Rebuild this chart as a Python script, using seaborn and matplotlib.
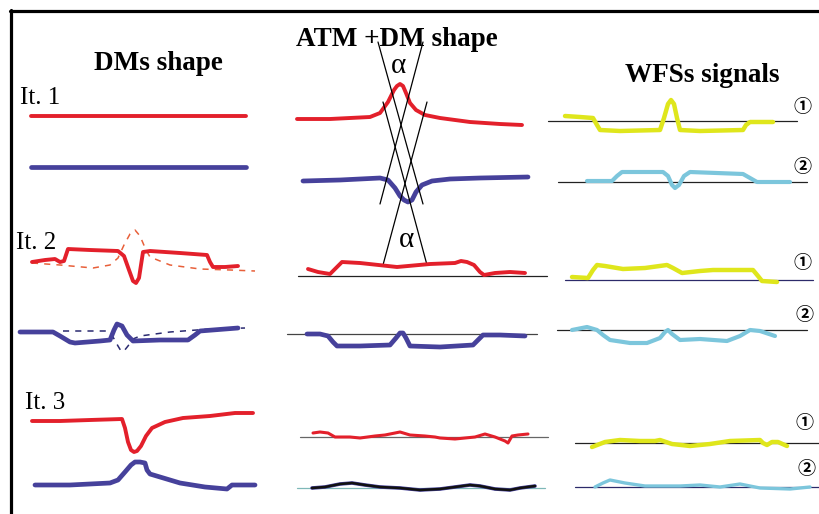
import matplotlib
matplotlib.use("Agg")
import matplotlib.pyplot as plt
import seaborn as sns

sns.set_theme(style="white")
plt.rcParams['font.family'] = ['Liberation Serif', 'Noto Sans CJK SC', 'DejaVu Sans']
plt.rcParams['text.color'] = 'black'

RED = "#e3202b"
RED_DASH = "#e8603a"
BLUE = "#46419b"
NAVY = "#2a2a70"
YELLOW = "#dfe61c"
CYAN = "#7cc6dc"

# ---------------- titles / labels ----------------
column_titles = ["DMs shape", "ATM +DM shape", "WFSs signals"]
iteration_labels = ["It. 1", "It. 2", "It. 3"]
signal_marks = ["\u2460", "\u2461", "\u2460", "\u2461", "\u2460", "\u2461"]

# ---------------- column 1 : DMs shape ----------------
dm_it1_red_x = [31, 246]
dm_it1_red_y = [116, 116]
dm_it1_blue_x = [31, 246]
dm_it1_blue_y = [167, 167]

dm_it2_red_x = [32, 45, 55, 60, 64, 68, 90, 118, 124, 129, 133, 136, 139, 143, 150, 180, 207, 210, 213, 225, 238]
dm_it2_red_y = [262, 260, 259, 262, 261, 249, 250, 251, 256, 270, 281, 283, 278, 252, 251, 253, 255, 262, 267, 267, 266]
dm_it2_red_dash_x = [32, 60, 93, 110, 118, 124, 130, 135, 140, 146, 150, 170, 200, 230, 255]
dm_it2_red_dash_y = [263, 265, 268, 265, 258, 245, 234, 230, 236, 250, 257, 265, 269, 270, 271]

dm_it2_blue_x = [20, 53, 60, 70, 75, 100, 110, 114, 117, 122, 127, 133, 160, 188, 195, 200, 238]
dm_it2_blue_y = [332, 332, 336, 342, 343, 341, 340, 330, 324, 326, 335, 341, 340, 340, 335, 331, 328]
dm_it2_blue_dash_x = [63, 107, 113, 118, 121, 124, 128, 133, 140, 170, 210, 245]
dm_it2_blue_dash_y = [331, 331, 337, 346, 351, 351, 346, 339, 336, 332, 329, 328]

dm_it3_red_x = [32, 60, 90, 122, 125, 128, 131, 134, 137, 141, 146, 152, 165, 183, 210, 235, 253]
dm_it3_red_y = [421, 421, 420, 419, 428, 442, 450, 452, 451, 446, 436, 428, 422, 418, 416, 413, 413]
dm_it3_blue_x = [35, 70, 110, 118, 125, 131, 135, 140, 145, 147, 150, 160, 180, 205, 227, 232, 240, 255]
dm_it3_blue_y = [485, 485, 483, 480, 472, 465, 462, 462, 463, 470, 474, 477, 483, 487, 489, 485, 485, 485]

# ---------------- column 2 : ATM + DM shape ----------------
atm_it1_red_x = [297, 330, 370, 380, 388, 394, 397, 400, 403, 406, 410, 416, 425, 440, 470, 500, 522]
atm_it1_red_y = [119, 119, 117, 113, 102, 90, 86, 84, 86, 93, 103, 110, 115, 118, 122, 124, 125]
atm_it1_blue_x = [303, 340, 380, 388, 395, 400, 404, 408, 412, 416, 422, 432, 450, 480, 528]
atm_it1_blue_y = [181, 180, 178, 180, 188, 196, 200, 202, 200, 192, 185, 181, 179, 178, 177]

ray_a_x = [378, 423]
ray_a_y = [42, 204]
ray_b_x = [423, 380]
ray_b_y = [42, 204]
ray_c_x = [383, 427]
ray_c_y = [102, 265]
ray_d_x = [427, 383]
ray_d_y = [102, 265]
alpha_x = [399, 407]
alpha_y = [66, 240]

atm_it2_base_x = [298, 547]
atm_it2_base_y = [276, 276]
atm_it2_red_x = [308, 318, 330, 336, 342, 360, 397, 430, 455, 461, 467, 474, 480, 484, 495, 510, 525]
atm_it2_red_y = [269, 272, 274, 268, 262, 263, 267, 264, 263, 261, 262, 265, 272, 275, 273, 272, 273]
atm_it2b_base_x = [287, 537]
atm_it2b_base_y = [334, 334]
atm_it2_blue_x = [307, 320, 328, 333, 337, 360, 390, 396, 400, 403, 406, 410, 440, 473, 478, 483, 500, 525]
atm_it2_blue_y = [334, 334, 336, 342, 346, 346, 345, 338, 333, 333, 338, 346, 347, 345, 340, 335, 335, 336]

atm_it3_base_x = [300, 548]
atm_it3_base_y = [437, 437]
atm_it3_red_x = [313, 320, 328, 335, 350, 360, 375, 385, 395, 400, 410, 425, 435, 440, 455, 465, 475, 485, 495, 500, 505, 508, 512, 518, 528]
atm_it3_red_y = [433, 432, 433, 437, 437, 438, 436, 435, 433, 432, 435, 436, 437, 438, 439, 438, 437, 434, 437, 439, 441, 443, 436, 435, 434]
atm_it3b_base_x = [297, 545]
atm_it3b_base_y = [488, 488]
atm_it3_blue_x = [312, 325, 340, 352, 365, 380, 400, 420, 440, 455, 470, 480, 495, 510, 520, 535]
atm_it3_blue_y = [488, 487, 484, 483, 485, 487, 488, 490, 489, 487, 485, 486, 489, 490, 488, 486]

# ---------------- column 3 : WFSs signals ----------------
wfs_it1_base1_x = [548, 797]
wfs_it1_base1_y = [121, 121]
wfs_it1_yel_x = [565, 580, 593, 597, 600, 620, 660, 664, 668, 671, 674, 677, 680, 700, 743, 746, 750, 773]
wfs_it1_yel_y = [116, 117, 118, 125, 130, 131, 130, 118, 104, 100, 104, 118, 130, 131, 130, 125, 122, 122]
wfs_it1_base2_x = [558, 807]
wfs_it1_base2_y = [182, 182]
wfs_it1_cyan_x = [587, 612, 617, 622, 663, 668, 672, 675, 679, 684, 690, 743, 750, 757, 790]
wfs_it1_cyan_y = [181, 181, 176, 172, 172, 176, 185, 188, 185, 176, 172, 174, 178, 182, 182]

wfs_it2_base1_x = [565, 813]
wfs_it2_base1_y = [280, 280]
wfs_it2_yel_x = [572, 588, 593, 597, 605, 623, 645, 667, 673, 682, 700, 713, 740, 753, 758, 762, 777]
wfs_it2_yel_y = [277, 278, 270, 265, 266, 269, 268, 265, 268, 273, 271, 270, 270, 270, 276, 281, 282]
wfs_it2_base2_x = [557, 807]
wfs_it2_base2_y = [330, 330]
wfs_it2_cyan_x = [572, 587, 597, 603, 610, 630, 647, 660, 665, 668, 672, 680, 700, 727, 740, 750, 760, 775]
wfs_it2_cyan_y = [330, 327, 330, 335, 340, 343, 343, 338, 332, 330, 334, 340, 339, 341, 336, 330, 331, 336]

wfs_it3_base1_x = [575, 819]
wfs_it3_base1_y = [443, 443]
wfs_it3_yel_x = [592, 605, 620, 640, 655, 660, 672, 690, 710, 730, 760, 763, 767, 772, 778, 787]
wfs_it3_yel_y = [447, 442, 440, 441, 441, 440, 444, 446, 444, 441, 440, 443, 445, 442, 442, 446]
wfs_it3_base2_x = [575, 819]
wfs_it3_base2_y = [487, 487]
wfs_it3_cyan_x = [595, 603, 610, 625, 645, 680, 700, 720, 740, 760, 790, 810]
wfs_it3_cyan_y = [487, 483, 480, 483, 486, 486, 485, 487, 484, 488, 489, 487]

mark_x = [803, 803, 803, 805, 805, 807]
mark_y = [106, 166, 263, 315, 423, 468]

# ---------------- drawing ----------------
fig = plt.figure(figsize=(8.19, 5.14), dpi=100)
ax = fig.add_axes([0, 0, 1, 1])
ax.set_xlim(0, 819)
ax.set_ylim(514, 0)
ax.axis("off")


def curve(x, y, color, lw, **kw):
    sns.lineplot(x=x, y=y, sort=False, estimator=None, color=color, linewidth=lw,
                 ax=ax, solid_capstyle="round", solid_joinstyle="round", **kw)


# frame (left and top edges)
curve([11, 11], [10, 514], "black", 2.3)
curve([10, 819], [11, 11], "black", 2.3)

# baselines
for bx, by, col in [
    (atm_it2_base_x, atm_it2_base_y, "#222222"),
    (atm_it2b_base_x, atm_it2b_base_y, "#444444"),
    (atm_it3_base_x, atm_it3_base_y, "#666666"),
    (atm_it3b_base_x, atm_it3b_base_y, "#7fb8b8"),
    (wfs_it1_base1_x, wfs_it1_base1_y, "#222222"),
    (wfs_it1_base2_x, wfs_it1_base2_y, "#222222"),
    (wfs_it2_base1_x, wfs_it2_base1_y, "#2c2a6a"),
    (wfs_it2_base2_x, wfs_it2_base2_y, "#222222"),
    (wfs_it3_base1_x, wfs_it3_base1_y, "#222222"),
    (wfs_it3_base2_x, wfs_it3_base2_y, "#2c2a6a"),
]:
    curve(bx, by, col, 0.9)

# column 1
curve(dm_it1_red_x, dm_it1_red_y, RED, 2.8)
curve(dm_it1_blue_x, dm_it1_blue_y, BLUE, 3.4)
curve(dm_it2_red_dash_x, dm_it2_red_dash_y, RED_DASH, 1.1, linestyle=(0, (4, 4)))
curve(dm_it2_blue_dash_x, dm_it2_blue_dash_y, NAVY, 1.1, linestyle=(0, (4, 4)))
curve(dm_it2_red_x, dm_it2_red_y, RED, 2.8)
curve(dm_it2_blue_x, dm_it2_blue_y, BLUE, 3.4)
curve(dm_it3_red_x, dm_it3_red_y, RED, 2.8)
curve(dm_it3_blue_x, dm_it3_blue_y, BLUE, 3.4)

# column 2
curve(atm_it1_red_x, atm_it1_red_y, RED, 2.8)
curve(atm_it1_blue_x, atm_it1_blue_y, BLUE, 3.4)
for rx, ry in [(ray_a_x, ray_a_y), (ray_b_x, ray_b_y), (ray_c_x, ray_c_y), (ray_d_x, ray_d_y)]:
    curve(rx, ry, "black", 0.9)
curve(atm_it2_red_x, atm_it2_red_y, RED, 2.8)
curve(atm_it2_blue_x, atm_it2_blue_y, BLUE, 3.4)
curve(atm_it3_red_x, atm_it3_red_y, RED, 2.2)
curve(atm_it3_blue_x, atm_it3_blue_y, BLUE, 2.6)
curve(atm_it3_blue_x, atm_it3_blue_y, "#111111", 1.8)

# column 3
curve(wfs_it1_yel_x, wfs_it1_yel_y, YELLOW, 3.2)
curve(wfs_it1_cyan_x, wfs_it1_cyan_y, CYAN, 3.0)
curve(wfs_it2_yel_x, wfs_it2_yel_y, YELLOW, 3.2)
curve(wfs_it2_cyan_x, wfs_it2_cyan_y, CYAN, 3.0)
curve(wfs_it3_yel_x, wfs_it3_yel_y, YELLOW, 3.2)
curve(wfs_it3_cyan_x, wfs_it3_cyan_y, CYAN, 2.4)

# text
title_pos = [(158, 63), (397, 40), (702, 75)]
for (tx, ty), t in zip(title_pos, column_titles):
    ax.text(tx, ty, t, fontsize=19.5, fontweight="bold", ha="center", va="center",
            color="black")

it_pos = [(20, 98), (16, 243), (25, 403)]
for (tx, ty), t in zip(it_pos, iteration_labels):
    ax.text(tx, ty, t, fontsize=18, ha="left", va="center", color="black")

for ax_, ay_ in zip(alpha_x, alpha_y):
    ax.text(ax_, ay_, "\u03b1", fontsize=21, ha="center", va="center", color="black")

for mx, my, m in zip(mark_x, mark_y, signal_marks):
    ax.text(mx, my, m, fontsize=13, ha="center", va="center", color="black",
            fontweight="bold", family=['Noto Sans CJK SC', 'DejaVu Sans'])

fig.savefig("out.png", dpi=100)
